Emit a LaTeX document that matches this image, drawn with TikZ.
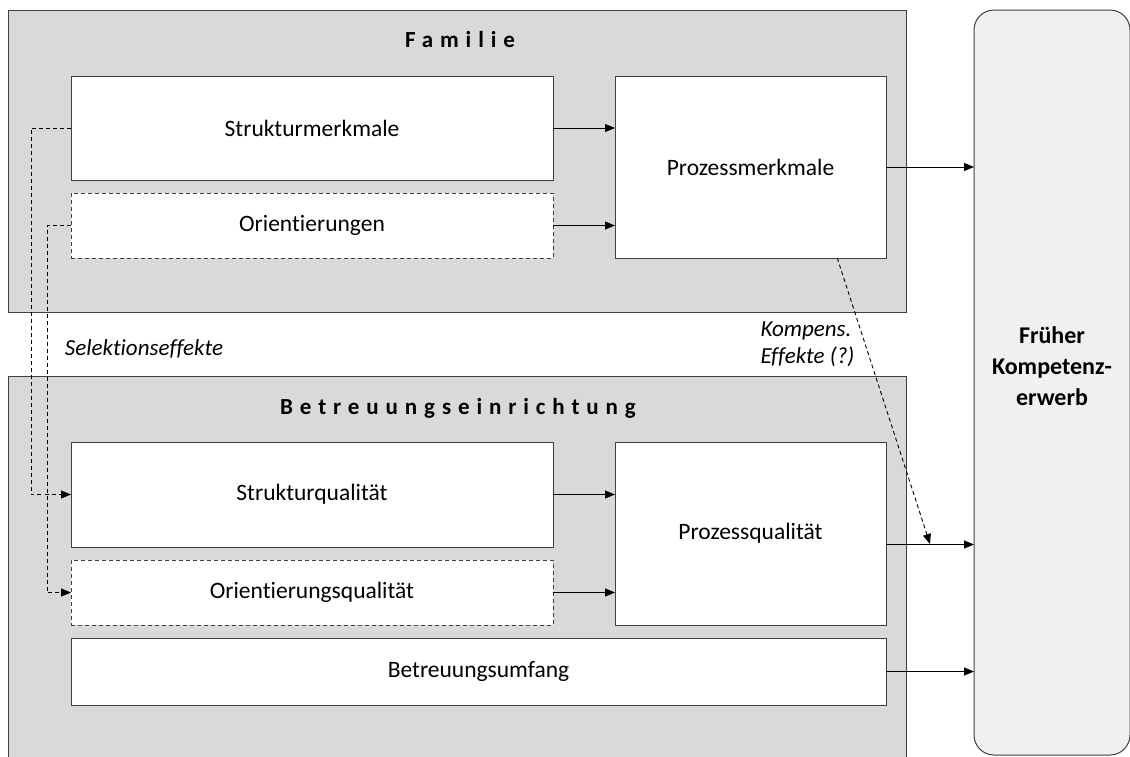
\documentclass[tikz,border=0pt]{standalone}
\usepackage{fontspec}
\setmainfont{Carlito}[Ligatures=NoCommon]
\usetikzlibrary{arrows.meta,calc}

\definecolor{panelgrey}{HTML}{D9D9D9}
\definecolor{outcomegrey}{HTML}{F0F0F0}
\definecolor{edge}{HTML}{404040}

\tikzset{
  panel/.style={draw=edge, line width=1pt, fill=panelgrey, inner sep=0pt, outer sep=0pt},
  box/.style={draw=edge, line width=1pt, fill=white, inner sep=0pt, outer sep=0pt,
    font=\fontsize{23.5}{28}\selectfont},
  dbox/.style={box, dash pattern=on 4pt off 3pt},
  paneltitle/.style={font=\fontsize{23}{28}\selectfont\bfseries\addfontfeatures{LetterSpace=30}},
  outcome/.style={draw=edge, line width=1pt, fill=outcomegrey, rounded corners=20pt,
    inner sep=0pt, outer sep=0pt},
  arr/.style={draw=black, line width=0.9pt, -{Triangle[length=10pt,width=8pt]}},
  darr/.style={arr, dash pattern=on 4pt off 3pt},
  note/.style={font=\fontsize{23}{27}\selectfont\itshape}
}

\begin{document}
\begin{tikzpicture}[x=1pt,y=-1pt]
  \useasboundingbox (0,0) rectangle (1130,756);

  % outcome column on the right
  \node[outcome, minimum width=156pt, minimum height=745pt] (fk) at (1052,382.5) {};
  \node[font=\fontsize{24}{31}\selectfont\bfseries, align=center] (fkt) at (1052,366)
    {Früher\\Kompetenz-\\erwerb};

  % family panel
  \node[panel, minimum width=898pt, minimum height=302pt] (fam) at (457,161) {};
  \node[paneltitle] (famt) at (460,40) {Familie};
  \node[box, minimum width=482pt, minimum height=104pt] (sm) at (312,128) {Strukturmerkmale};
  \node[dbox, minimum width=482pt, minimum height=65pt] (or) at (312,225.5) {Orientierungen};
  \node[box, minimum width=271pt, minimum height=182pt] (pm) at (750.5,167) {Prozessmerkmale};

  % childcare panel
  \node[panel, minimum width=898pt, minimum height=390pt] (bet) at (457,571) {};
  \node[paneltitle] (bett) at (458,408) {Betreuungseinrichtung};
  \node[box, minimum width=482pt, minimum height=105pt] (sq) at (312,494.5) {Strukturqualität};
  \node[dbox, minimum width=482pt, minimum height=65pt] (oq) at (312,592.5) {Orientierungsqualität};
  \node[box, minimum width=271pt, minimum height=183pt] (pq) at (750.5,533.5) {Prozessqualität};
  \node[box, minimum width=815pt, minimum height=67pt] (bu) at (478.5,671.5) {Betreuungsumfang};

  % labels between the panels
  \node[note] (sel) at (144,349) {Selektionseffekte};
  \node[note, align=left, anchor=west] (komp) at (757,344) {Kompens.\\Effekte (?)};

  % arrows inside the panels
  \draw[arr] (sm.east) -- (sm.east -| pm.west);
  \draw[arr] (or.east) -- (or.east -| pm.west);
  \draw[arr] (sq.east) -- (sq.east -| pq.west);
  \draw[arr] (oq.east) -- (oq.east -| pq.west);

  % arrows to the outcome
  \draw[arr] (pm.east) -- (pm.east -| fk.west);
  \coordinate (pqout) at ($(pq.east)+(0,11)$);
  \draw[arr] (pqout) -- (pqout -| fk.west);
  \draw[arr] (bu.east) -- (bu.east -| fk.west);

  % selection effects
  \draw[darr] (sm.west) -- ++(-40,0) |- (sq.west);
  \draw[darr] (or.west) -- ++(-24,0) |- (oq.west);

  % compensatory effects
  \coordinate (kstart) at ($(pm.south west)!0.82!(pm.south east)$);
  \coordinate (kend) at (930,544);
  \draw[darr] (kstart) -- (kend);
\end{tikzpicture}
\end{document}
